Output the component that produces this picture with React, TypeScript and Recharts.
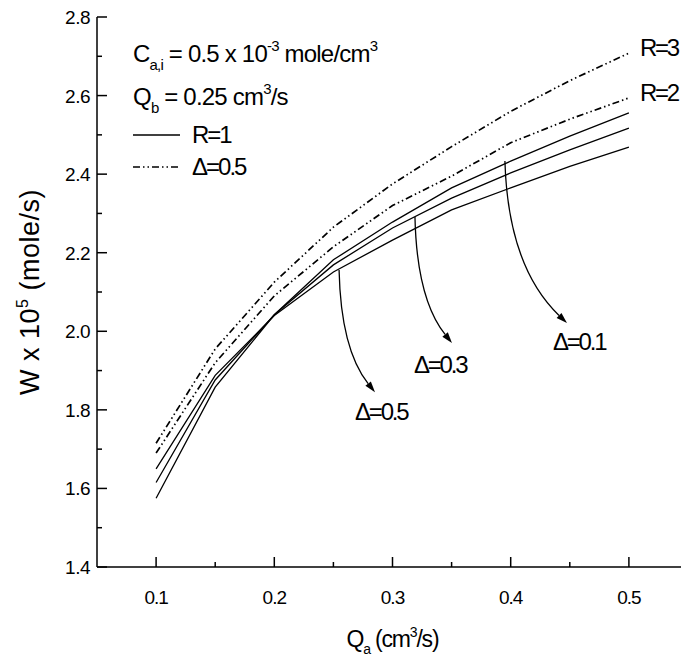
import { LineChart, Line, XAxis, YAxis, ReferenceLine, LabelList } from 'recharts';

// flow rate of phase a, cm3/s
const Q_A = [0.1, 0.15, 0.2, 0.25, 0.3, 0.35, 0.4, 0.45, 0.5];
// W x 10^5 (mole/s), R=1
const W_R1_D01 = [1.575, 1.858, 2.042, 2.182, 2.278, 2.365, 2.433, 2.497, 2.556];
const W_R1_D03 = [1.615, 1.876, 2.042, 2.169, 2.263, 2.339, 2.403, 2.462, 2.517];
const W_R1_D05 = [1.65, 1.888, 2.04, 2.151, 2.232, 2.309, 2.365, 2.42, 2.469];
// Δ=0.5, R=2 and R=3
const W_R2_D05 = [1.69, 1.92, 2.09, 2.215, 2.32, 2.395, 2.48, 2.54, 2.594];
const W_R3_D05 = [1.715, 1.955, 2.125, 2.265, 2.375, 2.47, 2.56, 2.638, 2.708];

const X_TICKS = [0.1, 0.15, 0.2, 0.25, 0.3, 0.35, 0.4, 0.45, 0.5];
const Y_TICKS = [1.4, 1.5, 1.6, 1.7, 1.8, 1.9, 2.0, 2.1, 2.2, 2.3, 2.4, 2.5, 2.6, 2.7, 2.8];

// curved arrows: label, point on curve, arrow tip
const ARROW_LABELS = ['Δ=0.5', 'Δ=0.3', 'Δ=0.1'];
const ARROW_FROM = [[0.2548, 2.156], [0.319, 2.291], [0.3951, 2.4335]];
const ARROW_TO = [[0.2852, 1.845], [0.3503, 1.97], [0.4476, 2.021]];

const FONT = "'Liberation Sans', Arial, sans-serif";
const DASH = '7 3 1.5 3 1.5 3';
// label placement relative to the arrow tip (px)
const LABEL_SHIFT = [[-20, 28], [-38, 30], [-14, 27]];

const data = Q_A.map((q, i) => ({
  q,
  d01: W_R1_D01[i],
  d03: W_R1_D03[i],
  d05: W_R1_D05[i],
  r2: W_R2_D05[i],
  r3: W_R3_D05[i],
}));

const isMajorX = (v: number) => Math.abs(v * 10 - Math.round(v * 10)) < 1e-6;
const isMajorY = (v: number) => Math.round(v * 10) % 2 === 0;

function BottomTick({ x, y, payload }: any) {
  const major = isMajorX(payload.value);
  return (
    <g>
      <line x1={x} x2={x} y1={y} y2={y - (major ? 10 : 5)} stroke="#000" strokeWidth={1.5} />
      {major && (
        <text x={x} y={y + 37} textAnchor="middle" fontSize={19} fontFamily={FONT} letterSpacing={-1}>
          {payload.value.toFixed(1)}
        </text>
      )}
    </g>
  );
}

function TopTick({ x, y, payload }: any) {
  const major = isMajorX(payload.value);
  return <line x1={x} x2={x} y1={y} y2={y + (major ? 10 : 5)} stroke="#000" strokeWidth={1.5} />;
}

function LeftTick({ x, y, payload }: any) {
  const major = isMajorY(payload.value);
  return (
    <g>
      <line x1={x} x2={x + (major ? 10 : 5)} y1={y} y2={y} stroke="#000" strokeWidth={1.5} />
      {major && (
        <text x={x - 7} y={y + 7} textAnchor="end" fontSize={19} fontFamily={FONT} letterSpacing={-0.5}>
          {payload.value.toFixed(1)}
        </text>
      )}
    </g>
  );
}

const arrowShape = (label: string, shift: number[]) => (p: any) => {
  const { x1, y1, x2, y2 } = p;
  const cx = x1 + 0.05 * (x2 - x1);
  const cy = y1 + 0.65 * (y2 - y1);
  const a = Math.atan2(y2 - cy, x2 - cx);
  const bx = x2 - 11 * Math.cos(a);
  const by = y2 - 11 * Math.sin(a);
  const s = Math.sin(a) * 3.5;
  const c = Math.cos(a) * 3.5;
  return (
    <g>
      <path d={`M${x1},${y1} Q${cx},${cy} ${bx},${by}`} fill="none" stroke="#000" strokeWidth={1.3} />
      <polygon points={`${x2},${y2} ${bx - s},${by + c} ${bx + s},${by - c}`} fill="#000" />
      <text x={x2 + shift[0]} y={y2 + shift[1]} fontSize={24} fontFamily={FONT} letterSpacing={-2.2}>
        {label}
      </text>
    </g>
  );
};

const endLabel = (text: string) => (p: any) => {
  if (p.index !== Q_A.length - 1) return null;
  return (
    <text x={p.x + 11} y={p.y + 3} fontSize={24} fontFamily={FONT} letterSpacing={-2.2}>
      {text}
    </text>
  );
};

function YTitle({ viewBox }: any) {
  const cx = viewBox.x + 30;
  const cy = viewBox.y + viewBox.height / 2;
  return (
    <text transform={`translate(${cx},${cy}) rotate(-90)`} textAnchor="middle" fontSize={27} fontFamily={FONT} letterSpacing={0.5} dy={9}>
      W x 10<tspan fontSize={16} dy={-11}>5</tspan>
      <tspan dy={11}> (mole/s)</tspan>
    </text>
  );
}

function XTitle({ viewBox }: any) {
  const cx = viewBox.x + viewBox.width / 2;
  return (
    <text x={cx} y={viewBox.y + 80} textAnchor="middle" fontSize={23} fontFamily={FONT} letterSpacing={-1.2}>
      Q<tspan fontSize={14} dy={7}>a</tspan>
      <tspan dy={-7}> (cm</tspan>
      <tspan fontSize={14} dy={-10}>3</tspan>
      <tspan dy={10}>/s)</tspan>
    </text>
  );
}

export default function App() {
  return (
    <div style={{ position: 'relative', width: 681, height: 661, overflow: 'hidden', background: '#fff' }}>
      <style>{'body{margin:0}'}</style>
      <LineChart width={720} height={661} data={data} margin={{ top: 17, right: 32, bottom: 0, left: 0 }}>
        <XAxis
          dataKey="q"
          type="number"
          domain={[0.05, 0.55]}
          ticks={X_TICKS}
          interval={0}
          height={94}
          tickSize={0}
          tickMargin={0}
          tickLine={false}
          tick={BottomTick}
          axisLine={{ stroke: '#000', strokeWidth: 1.5 }}
          label={{ content: XTitle }}
        />
        <XAxis
          xAxisId="top"
          orientation="top"
          dataKey="q"
          type="number"
          domain={[0.05, 0.55]}
          ticks={X_TICKS}
          interval={0}
          height={0}
          tickSize={0}
          tickMargin={0}
          tickLine={false}
          tick={TopTick}
          axisLine={{ stroke: '#000', strokeWidth: 1.5 }}
        />
        <YAxis
          type="number"
          domain={[1.4, 2.8]}
          ticks={Y_TICKS}
          interval={0}
          width={97}
          tickSize={0}
          tickMargin={0}
          tickLine={false}
          tick={LeftTick}
          axisLine={{ stroke: '#000', strokeWidth: 1.5 }}
          label={{ content: YTitle }}
        />
        <Line dataKey="d01" stroke="#000" strokeWidth={1.3} dot={false} isAnimationActive={false} />
        <Line dataKey="d03" stroke="#000" strokeWidth={1.3} dot={false} isAnimationActive={false} />
        <Line dataKey="d05" stroke="#000" strokeWidth={1.3} dot={false} isAnimationActive={false} />
        <Line dataKey="r2" stroke="#000" strokeWidth={1.7} strokeDasharray={DASH} dot={false} isAnimationActive={false}>
          <LabelList dataKey="r2" content={endLabel('R=2')} />
        </Line>
        <Line dataKey="r3" stroke="#000" strokeWidth={1.7} strokeDasharray={DASH} dot={false} isAnimationActive={false}>
          <LabelList dataKey="r3" content={endLabel('R=3')} />
        </Line>
        {ARROW_LABELS.map((lab, i) => (
          <ReferenceLine
            key={lab}
            segment={[
              { x: ARROW_FROM[i][0], y: ARROW_FROM[i][1] },
              { x: ARROW_TO[i][0], y: ARROW_TO[i][1] },
            ]}
            shape={arrowShape(lab, LABEL_SHIFT[i])}
          />
        ))}
      </LineChart>
      <svg width={681} height={661} style={{ position: 'absolute', left: 0, top: 0, pointerEvents: 'none' }} fontFamily={FONT}>
        <text x={133} y={62} fontSize={24} letterSpacing={-0.8}>
          C<tspan fontSize={15} dy={8}>a,i</tspan>
          <tspan dy={-8}> = 0.5 x 10</tspan>
          <tspan fontSize={15} dy={-11}>-3</tspan>
          <tspan dy={11}> mole/cm</tspan>
          <tspan fontSize={15} dy={-11}>3</tspan>
        </text>
        <text x={133} y={105} fontSize={24} letterSpacing={-0.8}>
          Q<tspan fontSize={15} dy={8}>b</tspan>
          <tspan dy={-8}>  = 0.25 cm</tspan>
          <tspan fontSize={15} dy={-11}>3</tspan>
          <tspan dy={11}>/s</tspan>
        </text>
        <line x1={133} x2={180} y1={135} y2={135} stroke="#000" strokeWidth={1.3} />
        <text x={192} y={143} fontSize={24} letterSpacing={-2}>R=1</text>
        <line x1={133} x2={180} y1={167} y2={167} stroke="#000" strokeWidth={1.7} strokeDasharray={DASH} />
        <text x={192} y={175} fontSize={24} letterSpacing={-2}>Δ=0.5</text>
      </svg>
    </div>
  );
}
